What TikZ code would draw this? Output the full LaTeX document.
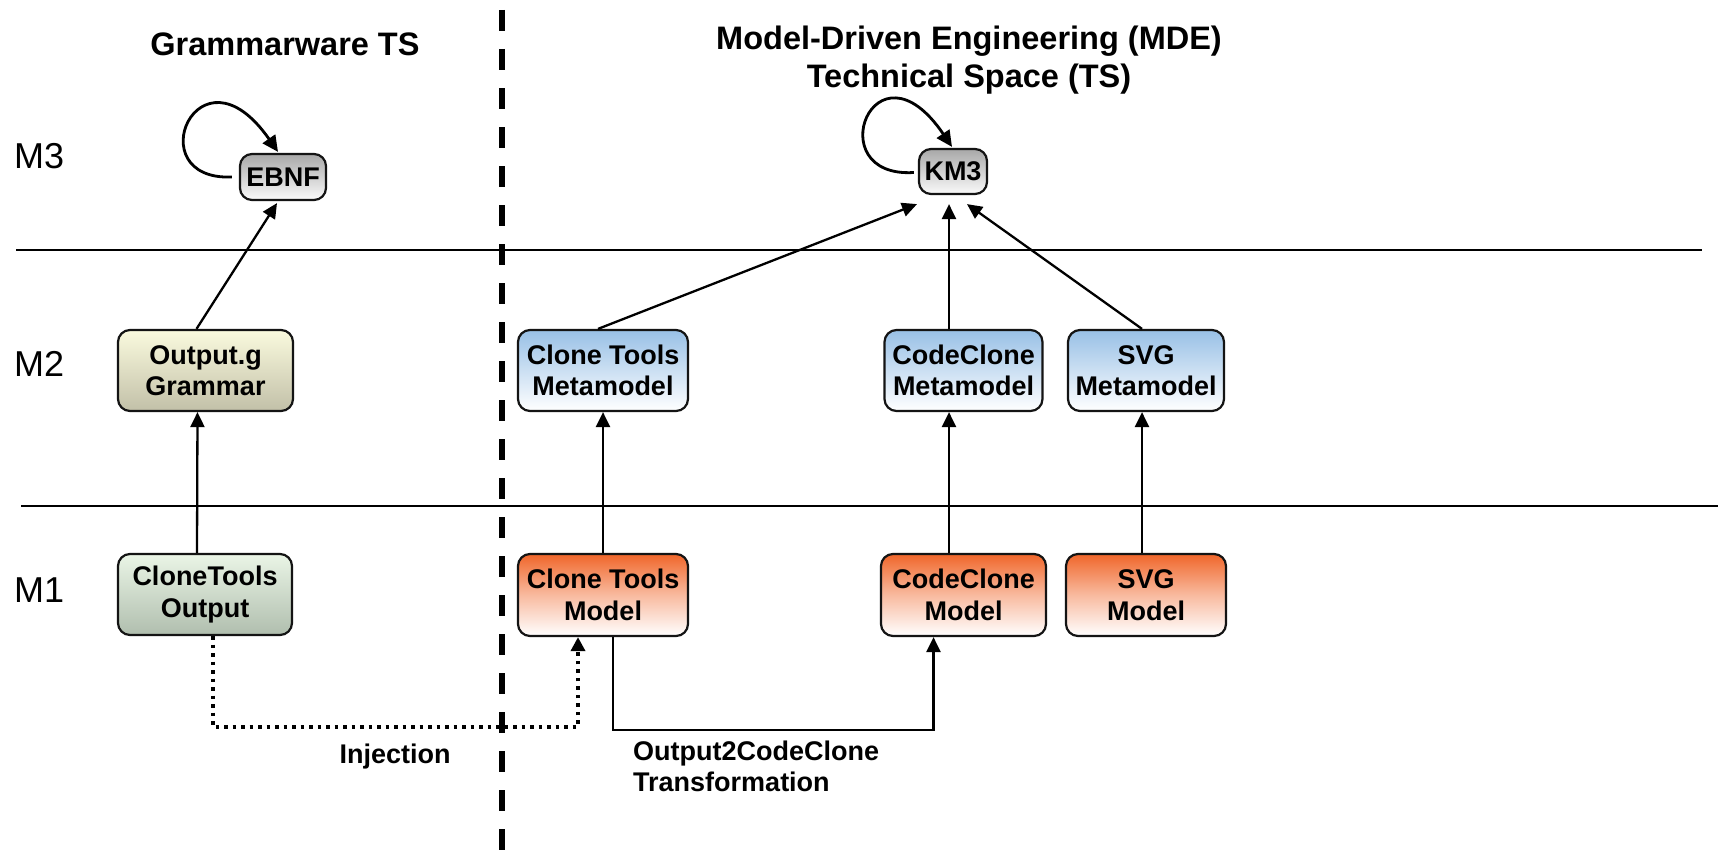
\documentclass[tikz,border=0pt]{standalone}
\usepackage{fontspec}
\setmainfont{Liberation Sans}
\usetikzlibrary{arrows.meta}
\definecolor{graytop}{RGB}{168,168,168}
\definecolor{graybot}{RGB}{250,250,250}
\definecolor{bluetop}{RGB}{152,192,230}
\definecolor{orangetop}{RGB}{240,102,42}
\definecolor{yellowtop}{RGB}{250,250,222}
\definecolor{yellowbot}{RGB}{194,192,168}
\definecolor{greentop}{RGB}{234,245,230}
\definecolor{greenbot}{RGB}{176,190,174}
\definecolor{edge}{RGB}{20,20,20}
\tikzset{
  box/.style={draw=edge, line width=2.2pt, rounded corners=12pt, inner sep=0pt,
    align=center, text=black, font=\fontsize{27}{31.5}\selectfont\bfseries},
  graybox/.style={box, top color=graytop, bottom color=graybot},
  bluebox/.style={box, top color=bluetop, bottom color=white},
  orangebox/.style={box, top color=orangetop, bottom color=white, middle color=orangetop!45!white},
  yellowbox/.style={box, top color=yellowtop, bottom color=yellowbot},
  greenbox/.style={box, top color=greentop, bottom color=greenbot},
  arr/.style={line width=2.3pt, draw=black, -{Triangle[length=15pt,width=14pt]}},
  looparr/.style={line width=2.8pt, draw=black, -{Triangle[length=16pt,width=15pt]}},
  dotarr/.style={line width=3.5pt, draw=black, dash pattern=on 3.5pt off 5pt,
    -{Triangle[length=14pt,width=14pt]}},
  title/.style={inner sep=0pt, font=\fontsize{32.5}{37}\selectfont\bfseries},
  lbl/.style={inner sep=0pt, font=\fontsize{27}{31.5}\selectfont\bfseries},
  mlbl/.style={inner sep=0pt, font=\fontsize{36}{40}\selectfont},
  sep/.style={line width=1.8pt, draw=black}
}
\begin{document}
\begin{tikzpicture}[x=1pt,y=-1pt]
\useasboundingbox (0,0) rectangle (1723,851);
\fill[white] (0,0) rectangle (1723,851);

% separators
\draw[sep] (16,250) -- (1702,250);
\draw[sep] (21,506) -- (1718,506);
\draw[line width=5.5pt, dash pattern=on 21pt off 18pt] (502,10) -- (502,851);

% titles
\node[title, anchor=base] (tg) at (285,56) {Grammarware TS};
\node[title, anchor=base] (tm1) at (969,50) {Model-Driven Engineering (MDE)};
\node[title, anchor=base] (tm2) at (969,88) {Technical Space (TS)};

% level labels
\node[mlbl, anchor=west] (m3) at (14,156) {M3};
\node[mlbl, anchor=west] (m2) at (14,364) {M2};
\node[mlbl, anchor=west] (m1) at (14,590) {M1};

% boxes
\node[graybox, minimum width=86pt, minimum height=46pt] (ebnf) at (283,177) {EBNF};
\node[graybox, minimum width=68pt, minimum height=45pt] (km3) at (953,171.5) {KM3};
\node[yellowbox, minimum width=175pt, minimum height=81pt] (outg) at (205.5,370.5) {Output.g\\Grammar};
\node[bluebox, minimum width=170pt, minimum height=81pt] (ctmm) at (603,370.5) {Clone Tools\\Metamodel};
\node[bluebox, minimum width=158pt, minimum height=81pt] (ccmm) at (963.5,370.5) {CodeClone\\Metamodel};
\node[bluebox, minimum width=156pt, minimum height=81pt] (svgmm) at (1146,370.5) {SVG\\Metamodel};
\node[greenbox, minimum width=174pt, minimum height=81pt] (cto) at (205,594.5) {CloneTools\\Output};
\node[orangebox, minimum width=170pt, minimum height=82pt] (ctm) at (603,595) {Clone Tools\\Model};
\node[orangebox, minimum width=165pt, minimum height=82pt] (ccm) at (963.5,595) {CodeClone\\Model};
\node[orangebox, minimum width=160pt, minimum height=82pt] (svgm) at (1146,595) {SVG\\Model};

% self loops
\draw[looparr] ([xshift=-7pt]ebnf.west) .. controls +(-95,4) and +(-80,-115) .. ([xshift=-5pt,yshift=1pt]ebnf.north);
\draw[looparr] ([xshift=-4pt,yshift=-1pt]km3.west) .. controls +(-96,6) and +(-78,-115) .. ([xshift=-1pt,yshift=1pt]km3.north);

% instance-of arrows
\draw[arr] ([xshift=-8pt]cto.north) -- ([xshift=-8pt]outg.south);
\draw[arr] ([xshift=-9pt]outg.north) -- ([xshift=-6pt,yshift=-2pt]ebnf.south);
\draw[arr] (ctm.north) -- (ctmm.south);
\draw[arr] ([xshift=-5pt]ctmm.north) -- ([xshift=-36pt,yshift=-9pt]km3.south);
\draw[arr] ([xshift=-14.5pt]ccm.north) -- ([xshift=-14.5pt]ccmm.south);
\draw[arr] ([xshift=-14.5pt]ccmm.north) -- ([xshift=-4pt,yshift=-9pt]km3.south);
\draw[arr] ([xshift=-4pt]svgm.north) -- ([xshift=-4pt]svgmm.south);
\draw[arr] ([xshift=-4pt]svgmm.north) -- ([xshift=14pt,yshift=-9pt]km3.south);

% injection and transformation
\coordinate (icorner) at (400,727);
\coordinate (tcorner) at (770,730);
\draw[dotarr] ([xshift=8pt]cto.south) |- (icorner) -| ([xshift=-25pt]ctm.south);
\draw[arr] ([xshift=10pt]ctm.south) |- (tcorner) -| ([xshift=-30pt]ccm.south);

\node[lbl, anchor=base] (inj) at (395,763) {Injection};
\node[lbl, anchor=base west] (tr1) at (633,760) {Output2CodeClone};
\node[lbl, anchor=base west] (tr2) at (633,791) {Transformation};
\end{tikzpicture}
\end{document}
